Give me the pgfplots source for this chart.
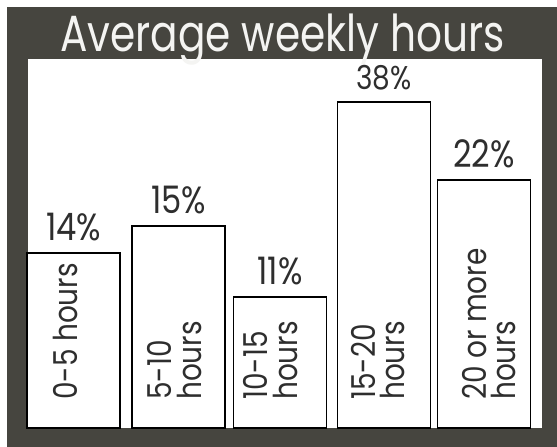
\documentclass[border=0pt]{standalone}
\usepackage{fontspec}
\setmainfont{Poppins}
\newfontfamily\titlefont[FakeStretch=0.80]{Poppins}
\newfontfamily\lblfont[FakeStretch=0.85]{Poppins}
\usepackage{pgfplots}
\pgfplotsset{compat=1.18}
\usepackage{pgfplotstable}
\definecolor{frame}{HTML}{46453F}
\definecolor{ink}{HTML}{2E2E2E}
\definecolor{titlec}{HTML}{F4F4F2}

\pgfplotstableread{
x h pct
73.5 175 14
178.5 202 15
280 131 11
384 326 38
484 248 22
}\data

\begin{document}
\begin{tikzpicture}
\begin{axis}[
  scale only axis, width=557bp, height=447bp,
  xmin=0, xmax=557, ymin=-19, ymax=428,
  hide axis, clip=false,
  ybar, bar width=93, bar shift=0pt,
  nodes near coords={\ifnum\pgfplotspointmeta=38 \fontsize{33}{33}\selectfont\fi\pgfplotspointmeta\%},
  point meta=explicit symbolic,
  every node near coord/.append style={anchor=base, yshift=12bp, inner sep=0pt,
    font=\lblfont\fontsize{38}{38}\selectfont, text=ink},
]
\fill[white] (axis cs:0,-19) rectangle (axis cs:557,428);
\fill[frame] (axis cs:7,-19) rectangle (axis cs:557,421);
\fill[white] (axis cs:28,0) rectangle (axis cs:542,369);
\node[anchor=base, inner sep=0pt, text=titlec, font=\titlefont\fontsize{51}{51}\selectfont]
  at (axis cs:282.5,376) {Average weekly hours};
\addplot[draw=black, fill=white, line width=1.2bp] table[x=x, y=h, meta=pct] {\data};
\begin{scope}[every node/.style={rotate=90, anchor=west, inner sep=0pt, align=left,
    text=ink, font=\lblfont\fontsize{33}{30}\selectfont}]
\node at (axis cs:65,28) {0-5 hours};
\node at (axis cs:175,28) {5-10\\hours};
\node at (axis cs:271,28) {10-15\\hours};
\node at (axis cs:378,28) {15-20\\hours};
\node at (axis cs:489,28) {20 or more\\hours};
\end{scope}
\end{axis}
\end{tikzpicture}
\end{document}
